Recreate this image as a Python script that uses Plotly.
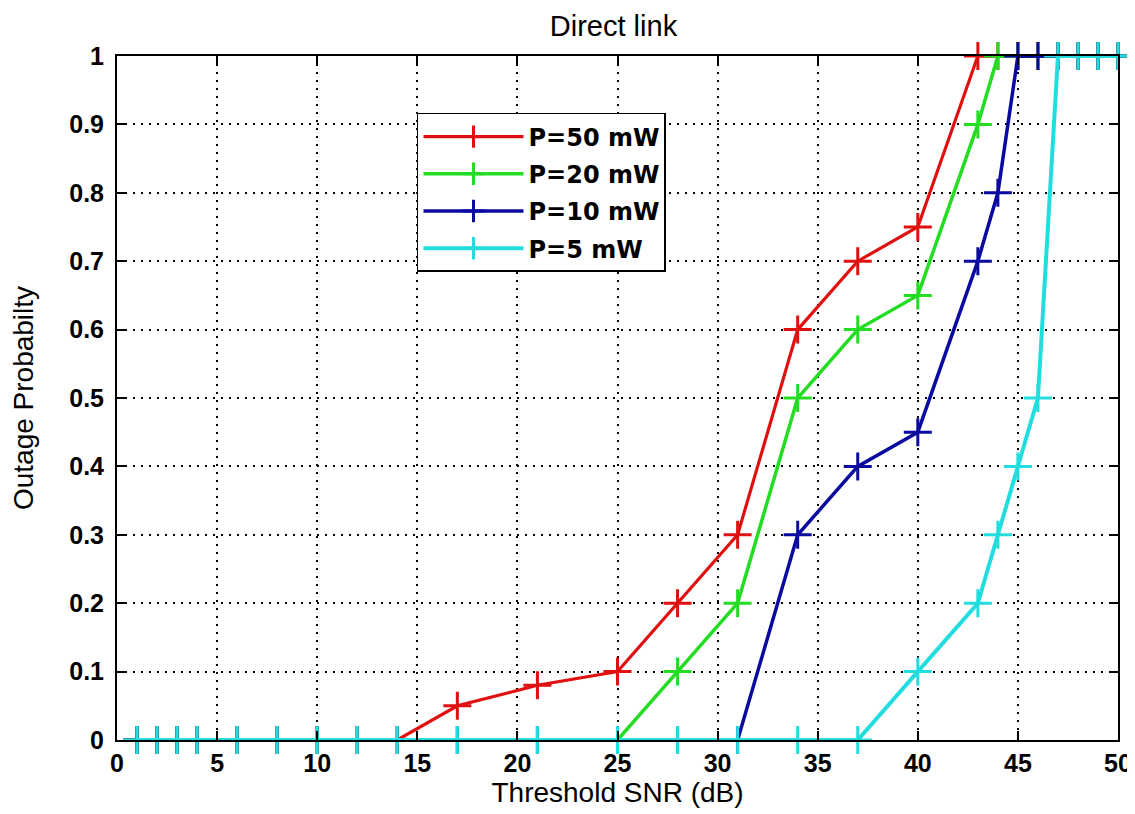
import plotly.graph_objects as go

snr = [1, 2, 3, 4, 6, 8, 10, 12, 14, 17, 21, 25, 28, 31, 34, 37, 40, 43, 44, 45, 46, 47, 48, 49, 50]
p50 = [0, 0, 0, 0, 0, 0, 0, 0, 0, 0.05, 0.08, 0.10, 0.20, 0.30, 0.60, 0.70, 0.75, 1, 1, 1, 1, 1, 1, 1, 1]
p20 = [0, 0, 0, 0, 0, 0, 0, 0, 0, 0, 0, 0, 0.10, 0.20, 0.50, 0.60, 0.65, 0.90, 1, 1, 1, 1, 1, 1, 1]
p10 = [0, 0, 0, 0, 0, 0, 0, 0, 0, 0, 0, 0, 0, 0, 0.30, 0.40, 0.45, 0.70, 0.80, 1, 1, 1, 1, 1, 1]
p5 = [0, 0, 0, 0, 0, 0, 0, 0, 0, 0, 0, 0, 0, 0, 0, 0, 0.10, 0.20, 0.30, 0.40, 0.50, 1, 1, 1, 1]

series = [
    ("P=50 mW", p50, "#e01010", 3.2),
    ("P=20 mW", p20, "#22dd22", 3.5),
    ("P=10 mW", p10, "#0a0aa0", 3.5),
    ("P=5 mW", p5, "#22dddd", 4),
]

x_ticks = list(range(0, 51, 5))
y_ticks = [i / 10 for i in range(0, 11)]
y_tick_text = ["0", "0.1", "0.2", "0.3", "0.4", "0.5", "0.6", "0.7", "0.8", "0.9", "1"]

fig = go.Figure()
for i, (name, vals, color, lw) in enumerate(series):
    fig.add_trace(go.Scatter(
        x=snr, y=vals, name=name, mode="lines+markers", legendgroup=f"g{i}",
        line=dict(color=color, width=lw),
        marker=dict(symbol="cross-thin", size=20, line=dict(color=color, width=3)),
        cliponaxis=False,
    ))

axis_font = dict(family="Liberation Sans", size=28, color="black")
tick_font = dict(family="Liberation Sans", size=25, color="black", weight="bold")
grid_dash = "2px,6px"

fig.update_layout(
    width=1127, height=806,
    paper_bgcolor="white", plot_bgcolor="white",
    margin=dict(l=109, r=17, t=48, b=74),
    title=dict(text="Direct link", x=0.496, xref="paper", xanchor="center",
               y=0.978, yref="container", yanchor="middle",
               font=dict(family="Liberation Sans", size=29, color="black")),
    showlegend=True,
    legend=dict(x=0.2997, y=0.9167, xanchor="left", yanchor="top",
                bgcolor="white", bordercolor="black", borderwidth=1.5,
                font=dict(family="DejaVu Sans", size=24, color="black", weight="bold"),
                itemwidth=100, tracegroupgap=3),
    xaxis=dict(range=[0, 50], tickvals=x_ticks, ticktext=[str(v) for v in x_ticks],
               showgrid=True, gridcolor="black", griddash=grid_dash, gridwidth=2,
               showline=True, linecolor="black", linewidth=2, mirror="ticks",
               ticks="inside", ticklen=9, tickwidth=2, tickcolor="black",
               tickfont=tick_font, ticklabelstandoff=0, automargin=False,
               title=dict(text="Threshold SNR (dB)", font=axis_font, standoff=4),
               zeroline=False),
    yaxis=dict(range=[0, 1], tickvals=y_ticks, ticktext=y_tick_text,
               showgrid=True, gridcolor="black", griddash=grid_dash, gridwidth=2,
               showline=True, linecolor="black", linewidth=2, mirror="ticks",
               ticks="inside", ticklen=9, tickwidth=2, tickcolor="black",
               tickfont=tick_font, ticklabelstandoff=6, automargin=False,
               title=dict(text="Outage Probabilty", font=axis_font, standoff=30),
               zeroline=False),
)

fig.write_html("out.html")
